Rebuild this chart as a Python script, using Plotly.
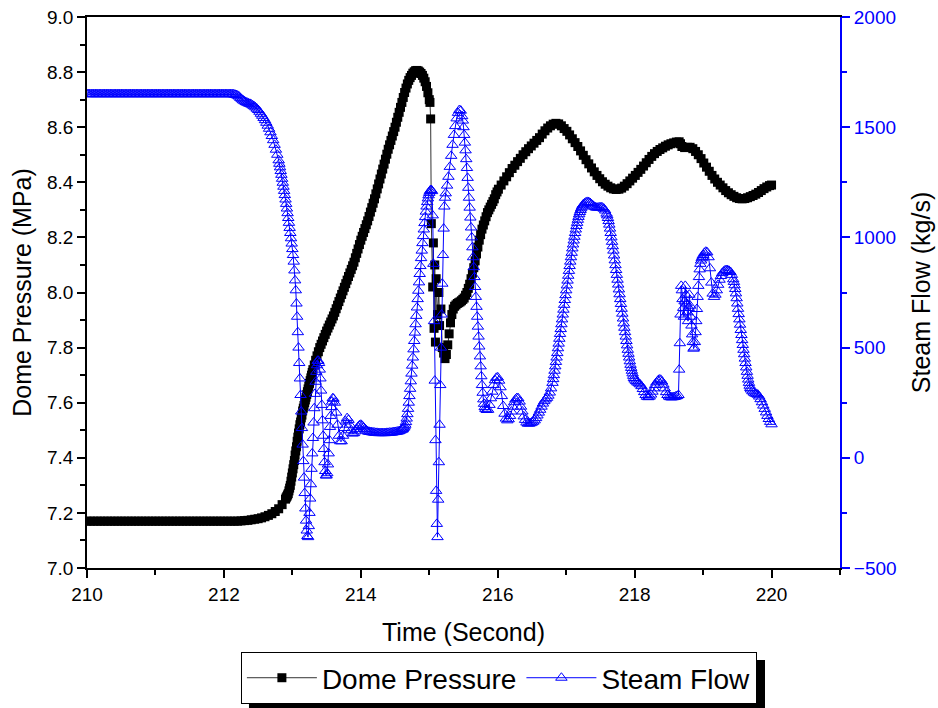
import plotly.graph_objects as go

# ======================= Dome Pressure (MPa) =======================
pressure_time = [
    # flat start, every 0.05 s
    210.00, 210.05, 210.10, 210.15, 210.20, 210.25, 210.30, 210.35, 210.40, 210.45,
    210.50, 210.55, 210.60, 210.65, 210.70, 210.75, 210.80, 210.85, 210.90, 210.95,
    211.00, 211.05, 211.10, 211.15, 211.20, 211.25, 211.30, 211.35, 211.40, 211.45,
    211.50, 211.55, 211.60, 211.65, 211.70, 211.75, 211.80, 211.85, 211.90, 211.95,
    212.00, 212.05, 212.10, 212.15, 212.20,
    212.25, 212.30, 212.35, 212.40, 212.45, 212.50, 212.55, 212.60, 212.65, 212.70,
    212.75, 212.80, 212.85, 212.90,
    # steep rise, every 0.01 s
    212.91, 212.92, 212.93, 212.94, 212.95, 212.96, 212.97, 212.98, 212.99, 213.00,
    213.01, 213.02, 213.03, 213.04, 213.05, 213.06, 213.07, 213.08, 213.09, 213.10,
    213.11, 213.12, 213.13, 213.14, 213.15, 213.16, 213.17, 213.18, 213.19, 213.20,
    213.21, 213.22, 213.23, 213.24, 213.25, 213.26, 213.27, 213.28, 213.29, 213.30,
    # ramp, every 0.02 s
    213.32, 213.34, 213.36, 213.38, 213.40, 213.42, 213.44, 213.46, 213.48, 213.50,
    213.52, 213.54, 213.56, 213.58, 213.60, 213.62, 213.64, 213.66, 213.68, 213.70,
    213.72, 213.74, 213.76, 213.78, 213.80, 213.82, 213.84, 213.86, 213.88, 213.90,
    213.92, 213.94, 213.96, 213.98, 214.00, 214.02, 214.04, 214.06, 214.08, 214.10,
    214.12, 214.14, 214.16, 214.18, 214.20, 214.22, 214.24, 214.26, 214.28, 214.30,
    214.32, 214.34, 214.36, 214.38, 214.40, 214.42, 214.44, 214.46, 214.48, 214.50,
    214.52, 214.54, 214.56, 214.58, 214.60, 214.62, 214.64, 214.66, 214.68, 214.70,
    214.72, 214.74, 214.76, 214.78, 214.80, 214.82, 214.84, 214.86, 214.88, 214.90,
    214.92, 214.94, 214.96, 214.98, 215.00,
    # scattered drop
    215.01, 215.02, 215.03, 215.05, 215.06, 215.07, 215.08, 215.09, 215.10, 215.12,
    215.14, 215.15, 215.17, 215.19, 215.21, 215.23,
    # recovery, every 0.02 s
    215.25, 215.27, 215.29, 215.31, 215.33, 215.35, 215.37, 215.39, 215.41, 215.43,
    215.45, 215.47, 215.49, 215.51, 215.53, 215.55, 215.57, 215.59, 215.61, 215.63,
    215.65, 215.67, 215.69, 215.71, 215.73, 215.75, 215.77, 215.79, 215.81, 215.83,
    215.85, 215.87, 215.89, 215.91, 215.93, 215.95, 215.97, 215.99, 216.01,
    # oscillation, every 0.04 s
    216.05, 216.09, 216.13, 216.17, 216.21, 216.25, 216.29, 216.33, 216.37, 216.41,
    216.45, 216.49, 216.53, 216.57, 216.61, 216.65, 216.69, 216.73, 216.77, 216.81,
    216.85, 216.89, 216.93, 216.97, 217.01, 217.05, 217.09, 217.13, 217.17, 217.21,
    217.25, 217.29, 217.33, 217.37, 217.41, 217.45, 217.49, 217.53, 217.57, 217.61,
    217.65, 217.69, 217.73, 217.77, 217.81, 217.85, 217.89, 217.93, 217.97, 218.01,
    218.05, 218.09, 218.13, 218.17, 218.21, 218.25, 218.29, 218.33, 218.37, 218.41,
    218.45, 218.49, 218.53, 218.57, 218.61, 218.65, 218.67, 218.69, 218.73, 218.77,
    218.81, 218.85, 218.89, 218.93, 218.97, 219.01, 219.05, 219.09, 219.13, 219.17,
    219.21, 219.25, 219.29, 219.33, 219.37, 219.41, 219.45, 219.49, 219.53, 219.57,
    219.61, 219.65, 219.69, 219.73, 219.77, 219.81, 219.85, 219.89, 219.93, 219.97,
    220.00,
]
pressure_value = [
    7.17, 7.17, 7.17, 7.17, 7.17, 7.17, 7.17, 7.17, 7.17, 7.17,
    7.17, 7.17, 7.17, 7.17, 7.17, 7.17, 7.17, 7.17, 7.17, 7.17,
    7.17, 7.17, 7.17, 7.17, 7.17, 7.17, 7.17, 7.17, 7.17, 7.17,
    7.17, 7.17, 7.17, 7.17, 7.17, 7.17, 7.17, 7.17, 7.17, 7.17,
    7.17, 7.17, 7.17, 7.17, 7.17,
    7.171, 7.172, 7.173, 7.175, 7.177, 7.179, 7.182, 7.186, 7.191, 7.197,
    7.205, 7.215, 7.23, 7.25,
    7.255, 7.26, 7.265, 7.27, 7.28, 7.29, 7.30, 7.315, 7.33, 7.345,
    7.36, 7.375, 7.39, 7.41, 7.425, 7.44, 7.46, 7.475, 7.49, 7.505,
    7.52, 7.53, 7.545, 7.555, 7.57, 7.58, 7.59, 7.60, 7.61, 7.62,
    7.63, 7.64, 7.65, 7.66, 7.67, 7.68, 7.69, 7.70, 7.71, 7.72,
    7.737, 7.754, 7.77, 7.785, 7.80, 7.812, 7.824, 7.836, 7.848, 7.86,
    7.871, 7.882, 7.893, 7.904, 7.915, 7.928, 7.941, 7.954, 7.967, 7.98,
    7.993, 8.006, 8.019, 8.032, 8.045, 8.058, 8.071, 8.084, 8.097, 8.11,
    8.126, 8.142, 8.158, 8.174, 8.19, 8.204, 8.218, 8.232, 8.246, 8.26,
    8.276, 8.292, 8.308, 8.324, 8.34, 8.358, 8.376, 8.394, 8.412, 8.43,
    8.448, 8.466, 8.484, 8.502, 8.52, 8.536, 8.552, 8.568, 8.584, 8.60,
    8.618, 8.636, 8.654, 8.672, 8.69, 8.708, 8.726, 8.742, 8.757, 8.77,
    8.78, 8.788, 8.796, 8.801, 8.805, 8.806, 8.804, 8.80, 8.795, 8.788,
    8.778, 8.765, 8.748, 8.725, 8.70,
    8.69, 8.63, 8.25, 8.02, 8.18, 7.87, 8.10, 7.82, 8.05, 7.92,
    8.00, 7.88, 7.94, 7.80, 7.78, 7.76,
    7.775, 7.81, 7.85, 7.89, 7.92, 7.94, 7.95, 7.955, 7.96, 7.963,
    7.966, 7.97, 7.975, 7.98, 7.99, 8.00, 8.015, 8.03, 8.05, 8.07,
    8.09, 8.115, 8.14, 8.165, 8.19, 8.21, 8.23, 8.245, 8.26, 8.275,
    8.29, 8.30, 8.31, 8.32, 8.33, 8.34, 8.355, 8.365, 8.375,
    8.39, 8.405, 8.42, 8.435, 8.45, 8.462, 8.475, 8.487, 8.50, 8.511,
    8.522, 8.532, 8.542, 8.552, 8.562, 8.575, 8.587, 8.597, 8.605, 8.611,
    8.614, 8.612, 8.605, 8.595, 8.585, 8.572, 8.558, 8.544, 8.53, 8.514,
    8.498, 8.482, 8.467, 8.452, 8.438, 8.425, 8.413, 8.402, 8.393, 8.386,
    8.38, 8.376, 8.374, 8.375, 8.379, 8.386, 8.395, 8.405, 8.415, 8.425,
    8.436, 8.447, 8.459, 8.471, 8.483, 8.494, 8.504, 8.512, 8.519, 8.525,
    8.531, 8.536, 8.54, 8.543, 8.546, 8.547, 8.54, 8.53, 8.526, 8.527,
    8.527, 8.522, 8.512, 8.50, 8.486, 8.47, 8.455, 8.44, 8.425, 8.412,
    8.40, 8.39, 8.38, 8.37, 8.362, 8.355, 8.349, 8.344, 8.341, 8.34,
    8.341, 8.344, 8.348, 8.352, 8.357, 8.363, 8.37, 8.377, 8.383, 8.388,
    8.39,
]

# ======================= Steam Flow (kg/s) =======================
flow_time = [
    # flat start, every 0.02 s
    210.00, 210.02, 210.04, 210.06, 210.08, 210.10, 210.12, 210.14, 210.16, 210.18,
    210.20, 210.22, 210.24, 210.26, 210.28, 210.30, 210.32, 210.34, 210.36, 210.38,
    210.40, 210.42, 210.44, 210.46, 210.48, 210.50, 210.52, 210.54, 210.56, 210.58,
    210.60, 210.62, 210.64, 210.66, 210.68, 210.70, 210.72, 210.74, 210.76, 210.78,
    210.80, 210.82, 210.84, 210.86, 210.88, 210.90, 210.92, 210.94, 210.96, 210.98,
    211.00, 211.02, 211.04, 211.06, 211.08, 211.10, 211.12, 211.14, 211.16, 211.18,
    211.20, 211.22, 211.24, 211.26, 211.28, 211.30, 211.32, 211.34, 211.36, 211.38,
    211.40, 211.42, 211.44, 211.46, 211.48, 211.50, 211.52, 211.54, 211.56, 211.58,
    211.60, 211.62, 211.64, 211.66, 211.68, 211.70, 211.72, 211.74, 211.76, 211.78,
    211.80, 211.82, 211.84, 211.86, 211.88, 211.90, 211.92, 211.94, 211.96, 211.98,
    212.00, 212.02, 212.04, 212.06, 212.08, 212.10,
    212.12, 212.14, 212.16, 212.18, 212.20, 212.22, 212.24, 212.26, 212.28, 212.30,
    212.32, 212.34, 212.36, 212.38, 212.40, 212.42, 212.44, 212.46, 212.48, 212.50,
    212.52, 212.54, 212.56, 212.58, 212.60, 212.62, 212.64, 212.66, 212.68, 212.70,
    212.72, 212.74, 212.76, 212.78, 212.80,
    # collapse and first oscillation, every 0.01 s
    212.81, 212.82, 212.83, 212.84, 212.85, 212.86, 212.87, 212.88, 212.89, 212.90,
    212.91, 212.92, 212.93, 212.94, 212.95, 212.96, 212.97, 212.98, 212.99, 213.00,
    213.01, 213.02, 213.03, 213.04, 213.05, 213.06, 213.07, 213.08, 213.09, 213.10,
    213.11, 213.12, 213.13, 213.14, 213.15, 213.16, 213.17, 213.18, 213.19, 213.20,
    213.21, 213.22, 213.23, 213.24, 213.25, 213.26, 213.27, 213.28, 213.29, 213.30,
    213.31, 213.32, 213.33, 213.34, 213.35, 213.36, 213.37, 213.38, 213.39, 213.40,
    213.41, 213.42, 213.43, 213.44, 213.45, 213.46, 213.47, 213.48, 213.49, 213.50,
    213.51, 213.52, 213.53, 213.54, 213.55, 213.56, 213.57, 213.58, 213.59, 213.60,
    # low plateau, every 0.02 s
    213.62, 213.64, 213.66, 213.68, 213.70, 213.72, 213.74, 213.76, 213.78, 213.80,
    213.82, 213.84, 213.86, 213.88, 213.90, 213.92, 213.94, 213.96, 213.98, 214.00,
    214.02, 214.04, 214.06, 214.08, 214.10, 214.12, 214.14, 214.16, 214.18, 214.20,
    214.22, 214.24, 214.26, 214.28, 214.30, 214.32, 214.34, 214.36, 214.38, 214.40,
    214.42, 214.44, 214.46, 214.48, 214.50, 214.52, 214.54, 214.56, 214.58, 214.60,
    # spike, every 0.01 s
    214.61, 214.62, 214.63, 214.64, 214.65, 214.66, 214.67, 214.68, 214.69, 214.70,
    214.71, 214.72, 214.73, 214.74, 214.75, 214.76, 214.77, 214.78, 214.79, 214.80,
    214.81, 214.82, 214.83, 214.84, 214.85, 214.86, 214.87, 214.88, 214.89, 214.90,
    214.91, 214.92, 214.93, 214.94, 214.95, 214.96, 214.97, 214.98, 214.99, 215.00,
    215.01, 215.02, 215.03, 215.04, 215.05, 215.06, 215.07, 215.08, 215.09, 215.10,
    215.11, 215.12, 215.13, 215.14, 215.15, 215.16, 215.17, 215.18, 215.19, 215.20,
    215.21, 215.22, 215.23, 215.24,
    215.26, 215.28, 215.30, 215.32, 215.34, 215.36, 215.38, 215.40, 215.42, 215.44,
    215.46, 215.48,
    215.49, 215.50, 215.51, 215.52, 215.53, 215.54, 215.55, 215.56, 215.57, 215.58,
    215.59, 215.60, 215.61, 215.62, 215.63, 215.64, 215.65, 215.66, 215.67, 215.68,
    215.69, 215.70, 215.71, 215.72, 215.73, 215.74, 215.75, 215.76, 215.77, 215.78,
    215.79, 215.80, 215.81, 215.82,
    215.84, 215.86, 215.88, 215.90, 215.92, 215.94, 215.96, 215.98, 216.00, 216.02,
    216.04, 216.06, 216.08, 216.10, 216.12, 216.14, 216.16, 216.18, 216.20, 216.22,
    216.24, 216.26, 216.28, 216.30, 216.32, 216.34, 216.36, 216.38, 216.40, 216.42,
    216.44, 216.46, 216.48, 216.50, 216.52, 216.54, 216.56, 216.58, 216.60, 216.62,
    216.64, 216.66, 216.68, 216.70, 216.72, 216.74, 216.76, 216.78, 216.80,
    216.81, 216.82, 216.83, 216.84, 216.85, 216.86, 216.87, 216.88, 216.89, 216.90,
    216.91, 216.92, 216.93, 216.94, 216.95, 216.96, 216.97, 216.98, 216.99, 217.00,
    217.01, 217.02, 217.03, 217.04, 217.05, 217.06, 217.07, 217.08, 217.09, 217.10,
    217.11, 217.12, 217.13, 217.14, 217.15, 217.16, 217.17, 217.18, 217.19, 217.20,
    217.21, 217.22, 217.23, 217.24, 217.25,
    217.27, 217.29, 217.31, 217.33, 217.35, 217.37, 217.39, 217.41, 217.43, 217.45,
    217.47, 217.49, 217.51, 217.53, 217.55, 217.57, 217.59,
    217.60, 217.61, 217.62, 217.63, 217.64, 217.65, 217.66, 217.67, 217.68, 217.69,
    217.70, 217.71, 217.72, 217.73, 217.74, 217.75, 217.76, 217.77, 217.78, 217.79,
    217.80, 217.81, 217.82, 217.83, 217.84, 217.85, 217.86, 217.87, 217.88, 217.89,
    217.90, 217.91, 217.92, 217.93, 217.94, 217.95, 217.96, 217.97, 217.98, 217.99,
    218.00,
    218.02, 218.04, 218.06, 218.08, 218.10, 218.12, 218.14, 218.16, 218.18, 218.20,
    218.22, 218.24, 218.26, 218.28, 218.30, 218.32, 218.34, 218.36, 218.38, 218.40,
    218.42, 218.44, 218.46, 218.48, 218.50, 218.52, 218.54, 218.56, 218.58, 218.60,
    218.62, 218.64,
    218.65, 218.66, 218.67, 218.68, 218.69, 218.70, 218.71, 218.72, 218.73, 218.74,
    218.75, 218.76, 218.77, 218.78, 218.79, 218.80, 218.81, 218.82, 218.83, 218.84,
    218.85, 218.86, 218.87, 218.88, 218.89, 218.90, 218.91, 218.92, 218.93, 218.94,
    218.95, 218.96, 218.97, 218.98, 218.99, 219.00,
    219.02, 219.04, 219.06, 219.08, 219.10, 219.12, 219.14, 219.16, 219.18, 219.20,
    219.22, 219.24, 219.26, 219.28, 219.30, 219.32, 219.34, 219.36, 219.38, 219.40,
    219.42, 219.44,
    219.45, 219.46, 219.47, 219.48, 219.49, 219.50, 219.51, 219.52, 219.53, 219.54,
    219.55, 219.56, 219.57, 219.58, 219.59, 219.60, 219.61, 219.62, 219.63, 219.64,
    219.65, 219.66, 219.67, 219.68, 219.69, 219.70,
    219.72, 219.74, 219.76, 219.78, 219.80, 219.82, 219.84, 219.86, 219.88, 219.90,
    219.92, 219.94, 219.96, 219.98, 220.00,
]
flow_value = [
    1650, 1650, 1650, 1650, 1650, 1650, 1650, 1650, 1650, 1650,
    1650, 1650, 1650, 1650, 1650, 1650, 1650, 1650, 1650, 1650,
    1650, 1650, 1650, 1650, 1650, 1650, 1650, 1650, 1650, 1650,
    1650, 1650, 1650, 1650, 1650, 1650, 1650, 1650, 1650, 1650,
    1650, 1650, 1650, 1650, 1650, 1650, 1650, 1650, 1650, 1650,
    1650, 1650, 1650, 1650, 1650, 1650, 1650, 1650, 1650, 1650,
    1650, 1650, 1650, 1650, 1650, 1650, 1650, 1650, 1650, 1650,
    1650, 1650, 1650, 1650, 1650, 1650, 1650, 1650, 1650, 1650,
    1650, 1650, 1650, 1650, 1650, 1650, 1650, 1650, 1650, 1650,
    1650, 1650, 1650, 1650, 1650, 1650, 1650, 1650, 1650, 1650,
    1650, 1650, 1650, 1650, 1650, 1650,
    1650, 1649, 1648, 1646, 1643, 1639, 1633, 1627, 1622, 1618,
    1614, 1611, 1608, 1606, 1603, 1599, 1595, 1590, 1584, 1578,
    1570, 1561, 1552, 1542, 1532, 1520, 1507, 1493, 1477, 1460,
    1441, 1420, 1398, 1375, 1350,
    1334, 1318, 1301, 1284, 1266, 1248, 1230, 1211, 1192, 1172,
    1152, 1131, 1110, 1088, 1066, 1043, 1020, 996, 972, 947,
    920, 890, 850, 805, 760, 700, 640, 570, 500, 430,
    360, 285, 210, 135, 60, -15, -90, -160, -230, -285,
    -330, -355, -360, -310, -250, -185, -120, -50, 20, 90,
    160, 225, 290, 345, 390, 420, 440, 440, 430, 400,
    360, 305, 240, 170, 100, 40, -20, -60, -80, -80,
    -70, -30, 20, 80, 140, 190, 230, 255, 270, 268,
    250, 205, 150, 100, 75, 75, 100, 135, 165, 180,
    172, 150, 125, 110, 112, 120, 130, 140, 147, 150,
    145, 138, 130, 124, 120, 118, 117, 116, 115, 114,
    113, 113, 112, 112, 112, 112, 112, 112, 113, 113,
    114, 114, 115, 116, 117, 118, 119, 121, 124, 127,
    130, 133, 137, 142, 150, 162, 178, 198, 222, 250,
    280, 313, 347, 382, 418, 455, 492, 530, 568, 606,
    644, 682, 720, 758, 796, 834, 870, 906, 940, 974,
    1006, 1036, 1065, 1092, 1117, 1140, 1160, 1177, 1191, 1202,
    1210, 1215, 1215, 1210, 1100, 880, 620, 350, 80, -150,
    -300, -360, -190, -20, 150, 330, 500, 650, 790, 920,
    1040, 1140, 1180, 1200,
    1235, 1275, 1320, 1370, 1420, 1465, 1505, 1540, 1565, 1578,
    1575, 1550,
    1530, 1500, 1465, 1430, 1395, 1355, 1315, 1270, 1225, 1180,
    1135, 1090, 1045, 1000, 955, 910, 865, 820, 775, 730,
    685, 640, 595, 550, 505, 460, 415, 370, 330, 295,
    265, 245, 230, 222,
    217, 218, 240, 270, 300, 330, 352, 363, 365, 350,
    320, 280, 235, 200, 178, 170, 175, 190, 210, 232,
    252, 265, 271, 270, 255, 232, 210, 188, 172, 160,
    155, 155, 157, 160, 164, 170, 180, 192, 205, 218,
    232, 246, 257, 265, 272, 282, 296, 315, 340,
    357, 375, 395, 415, 435, 455, 475, 497, 518, 540,
    562, 584, 606, 628, 650, 672, 694, 716, 738, 760,
    782, 804, 826, 848, 870, 890, 910, 930, 950, 968,
    986, 1003, 1020, 1036, 1052, 1066, 1080, 1093, 1105, 1115,
    1124, 1132, 1139, 1145, 1150,
    1155, 1159, 1161, 1160, 1156, 1150, 1144, 1139, 1136, 1135,
    1135, 1136, 1137, 1135, 1130, 1122, 1108,
    1100, 1088, 1074, 1058, 1040, 1020, 1000, 980, 960, 940,
    918, 896, 874, 852, 830, 808, 786, 764, 742, 720,
    698, 676, 654, 632, 610, 590, 570, 550, 530, 510,
    490, 472, 455, 438, 422, 408, 395, 383, 372, 362,
    355,
    348, 342, 338, 333, 325, 312, 298, 285, 277, 275,
    278, 287, 300, 315, 330, 342, 350, 355, 354, 346,
    332, 315, 298, 285, 278, 275, 274, 275, 276, 278,
    280, 285,
    400, 520, 650, 780, 760, 720, 680, 640, 710, 780,
    740, 700, 660, 620, 680, 740, 690, 640, 600, 560,
    525, 495, 500, 525, 570, 620, 675, 730, 780, 820,
    855, 880, 895, 905, 912, 920,
    930, 935, 932, 910, 860, 795, 745, 730, 740, 760,
    785, 808, 825, 838, 845, 850, 852, 851, 848, 843,
    830, 810,
    798, 783, 766, 746, 724, 700, 676, 652, 628, 604,
    580, 557, 534, 512, 490, 470, 450, 430, 410, 390,
    372, 355, 340, 327, 317, 310,
    302, 296, 292, 290, 286, 278, 266, 252, 237, 222,
    206, 190, 176, 163, 152,
]

assert len(pressure_time) == len(pressure_value), (len(pressure_time), len(pressure_value))
assert len(flow_time) == len(flow_value), (len(flow_time), len(flow_value))

BLUE = "#0000FF"
FONT = "Liberation Sans, Arial, sans-serif"

fig = go.Figure()
fig.add_trace(go.Scatter(
    x=pressure_time, y=pressure_value, name="Dome Pressure",
    mode="lines+markers",
    line=dict(color="#333333", width=1),
    marker=dict(symbol="square", size=9, color="black", line=dict(width=0)),
    yaxis="y",
))
fig.add_trace(go.Scatter(
    x=flow_time, y=flow_value, name="Steam Flow",
    mode="lines+markers",
    line=dict(color=BLUE, width=1),
    marker=dict(symbol="triangle-up-open", size=10, color=BLUE,
                line=dict(width=1, color=BLUE)),
    yaxis="y2",
))

fig.update_layout(
    width=938, height=708,
    margin=dict(l=87, r=98, t=17, b=140, autoexpand=False),
    paper_bgcolor="white", plot_bgcolor="white",
    font=dict(family=FONT, color="black"),
    showlegend=True,
    legend=dict(
        orientation="h", x=0.547, xanchor="center", y=-0.1525, yanchor="top",
        bgcolor="white", bordercolor="black", borderwidth=1,
        font=dict(size=28, family=FONT), itemwidth=70,
        tracegroupgap=0,
    ),
    xaxis=dict(
        range=[210, 221], dtick=2, tick0=210,
        showgrid=False, zeroline=False,
        showline=True, linecolor="black", linewidth=1.5, mirror=True,
        ticks="outside", ticklen=8, tickwidth=1.5, tickcolor="black",
        minor=dict(dtick=1, ticks="outside", ticklen=5, tickwidth=1.5, tickcolor="black"),
        tickfont=dict(size=19, family=FONT),
        title=dict(text="Time (Second)", font=dict(size=25, family=FONT), standoff=20),
    ),
    yaxis=dict(
        range=[7.0, 9.0], dtick=0.2, tick0=7.0, tickformat=".1f",
        showgrid=False, zeroline=False,
        showline=True, linecolor="black", linewidth=1.5,
        ticks="outside", ticklen=8, tickwidth=1.5, tickcolor="black",
        minor=dict(dtick=0.1, ticks="outside", ticklen=5, tickwidth=1.5, tickcolor="black"),
        tickfont=dict(size=19, family=FONT),
        title=dict(text="Dome Pressure (MPa)", font=dict(size=25, family=FONT), standoff=8),
    ),
    yaxis2=dict(
        range=[-500, 2000], dtick=500, tick0=-500,
        overlaying="y", side="right",
        showgrid=False, zeroline=False,
        showline=True, linecolor=BLUE, linewidth=2,
        ticks="outside", ticklen=8, tickwidth=1.5, tickcolor=BLUE,
        minor=dict(dtick=250, ticks="outside", ticklen=5, tickwidth=1.5, tickcolor=BLUE),
        tickfont=dict(size=19, family=FONT, color=BLUE),
        title=dict(text="Steam Flow (kg/s)", font=dict(size=25, family=FONT, color="black"), standoff=17),
    ),
    shapes=[
        dict(type="rect", xref="paper", yref="paper",
             x0=0.2151, x1=0.9004, y0=-0.27, y1=-0.167,
             fillcolor="black", line=dict(width=0), layer="below"),
    ],
)

fig.write_html("out.html")
